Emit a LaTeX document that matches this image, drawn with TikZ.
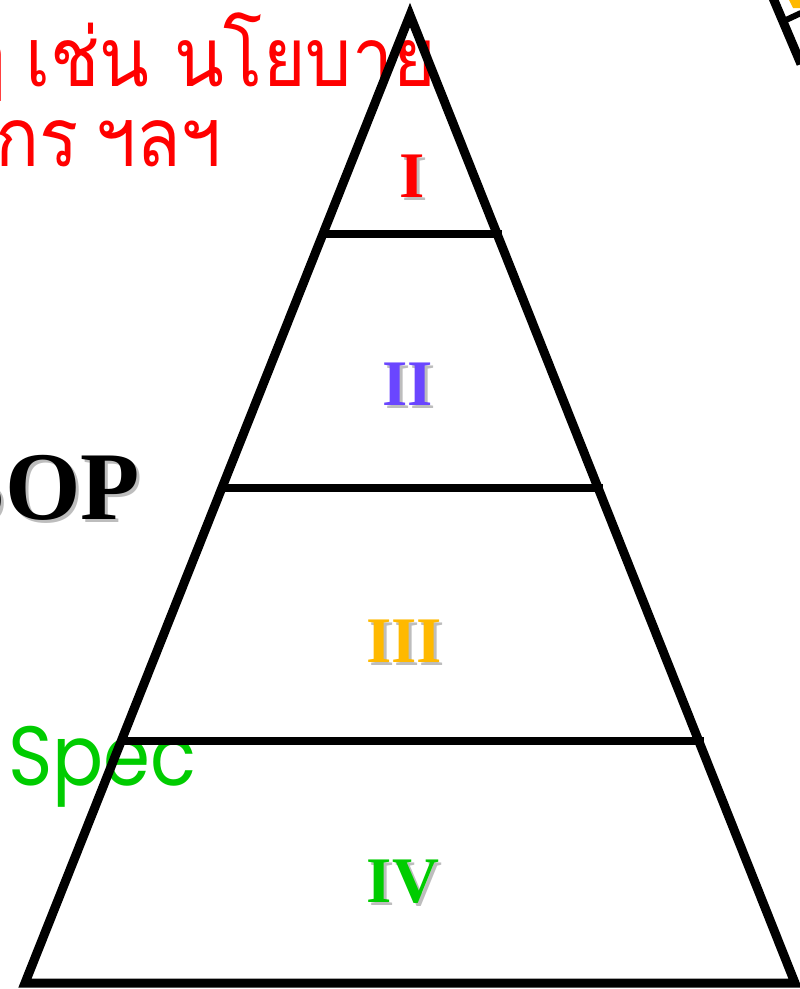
\documentclass[tikz,border=0pt]{standalone}
\usepackage{fontspec}
\usetikzlibrary{calc}
\newfontfamily\thaifont[Script=Thai]{Loma}
\newfontfamily\numfont{Liberation Serif}
\newfontfamily\specfont{Poppins}
\definecolor{lvlred}{HTML}{FF0000}
\definecolor{lvlpurple}{HTML}{6A46FF}
\definecolor{lvlgold}{HTML}{FFB900}
\definecolor{lvlgreen}{HTML}{00CC00}
\definecolor{shadowgray}{HTML}{BDBDBD}
\newcommand{\shd}[2]{\rlap{\kern3pt\raisebox{-3pt}{\color{shadowgray}#2}}{\color{#1}#2}}
\tikzset{
  edge/.style={line width=9pt, line join=miter},
  lvl/.style={anchor=base, inner sep=0pt, font=\numfont\bfseries\fontsize{65}{65}\selectfont},
  thai/.style={anchor=base east, inner sep=0pt, text=lvlred, font=\thaifont\fontsize{78}{78}\selectfont},
}
\begin{document}
\begin{tikzpicture}[x=1pt,y=-1pt]
\useasboundingbox (0,0) rectangle (800,989);
\begin{scope}
\clip (0,0) rectangle (800,989);
% cut-off text on the left
\node[thai] (t1) at (436,86) {\scalebox{0.935}[1.05]{ๆ\kern-6pt{} เช่น นโยบาย}};
\node[thai] (t2) at (222,166) {\scalebox{0.935}[1.05]{กร\kern-9pt{} ฯลฯ}};
\node[anchor=base east, inner sep=0pt, font=\numfont\bfseries\fontsize{97}{97}\selectfont] (sop) at (140,519) {\shd{black}{SOP}};
\node[anchor=base west, inner sep=0pt, text=lvlgreen, font=\specfont\fontsize{84}{84}\selectfont] (spec) at (8,785) {\scalebox{0.9}[1]{Spec}};
% pieces of a neighbouring figure at the top right
\fill[lvlgold] (789,0) -- (800,0) -- (800,8) -- (793,8) -- cycle;
\draw[line width=9pt] (773,-2) -- (801,64);
\draw[line width=6pt] (786,20) -- (801,13);
\end{scope}
% pyramid
\coordinate (A) at (410,15);
\coordinate (B) at (25,983);
\coordinate (C) at (795,983);
\draw[edge] (A) -- (B) -- (C) -- cycle;
\foreach \t/\n in {0.2262/1, 0.4886/2, 0.7500/3}{
  \draw[line width=8pt] ($(A)!\t!(B)$) -- ($($(A)!\t!(C)$)+(5,0)$);
}
\node[lvl] (l1) at (412,197) {\shd{lvlred}{I}};
\node[lvl] (l2) at (408,405) {\shd{lvlpurple}{II}};
\node[lvl] (l3) at (404,662) {\shd{lvlgold}{III}};
\node[lvl] (l4) at (403,902) {\shd{lvlgreen}{IV}};
\end{tikzpicture}
\end{document}
